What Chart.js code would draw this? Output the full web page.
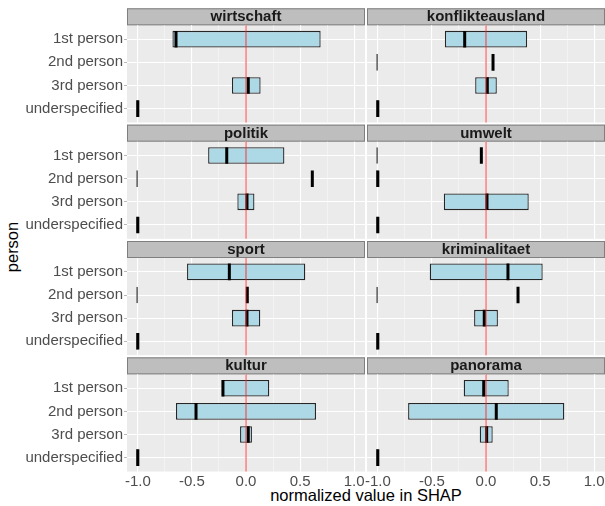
<!DOCTYPE html>
<html>
<head>
<meta charset="utf-8">
<script src="https://cdn.jsdelivr.net/npm/chart.js@4"></script>
<style>
  html, body { margin: 0; padding: 0; background: #ffffff; }
  #fig { position: relative; width: 605px; height: 506px; overflow: hidden;
         font-family: "Liberation Sans", Arial, sans-serif; }
  #fig canvas { position: absolute; }
  .axis-title { position: absolute; color: #000000; font-size: 16.5px; line-height: 1;
                white-space: nowrap; transform: translate(-50%, -50%); }
  #ytitle { transform: translate(-50%, -50%) rotate(-90deg); }
</style>
</head>
<body>
<div id="fig">
  <div class="axis-title" id="ytitle" style="left:12px; top:247px;">person</div>
  <div class="axis-title" id="xtitle" style="left:366px; top:495px;">normalized value in SHAP</div>
</div>
<script>
// Groups on the vertical axis (top to bottom)
const categories = ['1st person', '2nd person', '3rd person', 'underspecified'];

// Facets, filled row by row (left, right)
const panelNames = ['wirtschaft', 'konflikteausland', 'politik', 'umwelt',
                    'sport', 'kriminalitaet', 'kultur', 'panorama'];

// Box limits and medians per facet, one value per group (null = no data)
const lowerHinge = [
  [-0.68,  null,   -0.13,  -1],   // wirtschaft
  [-0.38,  -1,     -0.10,  -1],   // konflikteausland
  [-0.35,  -1,     -0.08,  -1],   // politik
  [-1,     -1,     -0.39,  -1],   // umwelt
  [-0.545, -1,     -0.13,  -1],   // sport
  [-0.52,  -1,     -0.11,  -1],   // kriminalitaet
  [-0.225, -0.647, -0.055, -1],   // kultur
  [-0.206, -0.72,  -0.058, -1]    // panorama
];
const upperHinge = [
  [0.69,   null,   0.135,  -1],
  [0.38,   -1,     0.10,   -1],
  [0.355,  -1,     0.078,  -1],
  [-1,     -1,     0.395,  -1],
  [0.548,  -1,     0.132,  -1],
  [0.524,  -1,     0.11,   -1],
  [0.215,  0.647,  0.055,  -1],
  [0.21,   0.724,  0.062,  -1]
];
const medians = [
  [-0.647, null,   0.021,  -1],
  [-0.197, 0.065,  0.012,  -1],
  [-0.178, 0.613,  0.009,  -1],
  [-0.043, -1,     0.009,  -1],
  [-0.154, 0.012,  0.009,  -1],
  [0.203,  0.296,  -0.016, -1],
  [-0.213, -0.462, 0.021,  -1],
  [-0.021, 0.095,  0.006,  -1]
];

// Horizontal axis: grid positions and labelled values
const xGridValues = [-1, -0.75, -0.5, -0.25, 0, 0.25, 0.5, 0.75, 1];
const xLabelValues = [-1, -0.5, 0, 0.5, 1];
const referenceValue = 0;

const FONT = '"Liberation Sans", Arial, sans-serif';

// Panel background, strip with facet name, and the reference line at zero
const facetPlugin = {
  id: 'facet',
  beforeDraw(chart, args, opts) {
    const { ctx, chartArea: a } = chart;
    const w = a.right - a.left;
    ctx.save();
    ctx.fillStyle = '#EBEBEB';
    ctx.fillRect(a.left, a.top, w, a.bottom - a.top);
    const top = a.top - opts.stripHeight;
    ctx.fillStyle = '#BEBEBE';
    ctx.fillRect(a.left, top, w, opts.stripHeight);
    ctx.strokeStyle = '#7F7F7F';
    ctx.lineWidth = 1;
    ctx.strokeRect(a.left + 0.5, top + 0.5, w - 1, opts.stripHeight - 1);
    ctx.fillStyle = '#1A1A1A';
    ctx.font = 'bold 15px ' + FONT;
    ctx.textAlign = 'center';
    ctx.textBaseline = 'middle';
    ctx.fillText(opts.label, (a.left + a.right) / 2, top + opts.stripHeight / 2 + 0.5);
    ctx.restore();
  },
  afterDatasetsDraw(chart, args, opts) {
    const { ctx, chartArea: a } = chart;
    const x = chart.scales.x.getPixelForValue(opts.refValue);
    ctx.save();
    ctx.strokeStyle = 'rgba(255, 30, 30, 0.72)';
    ctx.lineWidth = 1.2;
    ctx.beginPath();
    ctx.moveTo(x, a.top);
    ctx.lineTo(x, a.bottom);
    ctx.stroke();
    ctx.restore();
  }
};

const fig = document.getElementById('fig');
const stripH = 17, panelH = 97.2, firstStrip = 8.3, rowPitch = 116.35;
const xAxisH = 20;

panelNames.forEach((name, p) => {
  const row = Math.floor(p / 2);
  const isLeft = p % 2 === 0;
  const isBottom = row === 3;

  const stripTop = firstStrip + row * rowPitch;
  const canvasTop = Math.floor(stripTop);
  const padTop = stripTop - canvasTop + stripH;
  const axisH = isBottom ? xAxisH : 0;
  const content = padTop + panelH + axisH;
  const canvasH = Math.ceil(content);
  const padBottom = canvasH - content;

  const canvasLeft = isLeft ? 0 : 355;
  const canvasW = isLeft ? 365 : 250;
  const yAxisW = isLeft ? 127 : 12;

  const canvas = document.createElement('canvas');
  canvas.width = canvasW;
  canvas.height = canvasH;
  canvas.style.left = canvasLeft + 'px';
  canvas.style.top = canvasTop + 'px';
  canvas.style.width = canvasW + 'px';
  canvas.style.height = canvasH + 'px';
  fig.appendChild(canvas);

  const boxData = [];
  const medianData = [];
  categories.forEach((c, i) => {
    if (lowerHinge[p][i] !== null) boxData.push({ y: i, x: [lowerHinge[p][i], upperHinge[p][i]] });
    if (medians[p][i] !== null) medianData.push({ y: i, x: medians[p][i] });
  });

  new Chart(canvas, {
    type: 'bar',
    data: {
      datasets: [
        {
          type: 'bar',
          indexAxis: 'y',
          data: boxData,
          backgroundColor: '#ADD8E6',
          borderColor: '#262626',
          borderWidth: 1.3,
          borderSkipped: false,
          minBarLength: 1.5,
          grouped: false,
          barPercentage: 0.9,
          categoryPercentage: 0.8,
          order: 2
        },
        {
          type: 'line',
          indexAxis: 'y',
          data: medianData,
          showLine: false,
          pointStyle: 'line',
          pointRotation: 90,
          pointRadius: 8.3,
          pointBorderWidth: 3,
          pointBorderColor: '#000000',
          pointBackgroundColor: '#000000',
          borderColor: '#000000',
          order: 1
        }
      ]
    },
    options: {
      indexAxis: 'y',
      responsive: false,
      animation: false,
      events: [],
      layout: { autoPadding: false, padding: { top: padTop, bottom: padBottom, left: 0, right: 0 } },
      plugins: {
        legend: { display: false },
        tooltip: { enabled: false },
        title: { display: false },
        facet: { label: name, stripHeight: stripH, refValue: referenceValue }
      },
      scales: {
        x: {
          type: 'linear',
          offset: false,
          min: -1.1,
          max: 1.1,
          afterBuildTicks: s => { s.ticks = xGridValues.map(v => ({ value: v })); },
          afterFit: s => { s.height = axisH; s.paddingLeft = 0; s.paddingRight = 0; },
          border: { display: false },
          grid: {
            offset: false,
            drawTicks: false,
            color: ctx => (ctx.tick && xLabelValues.includes(ctx.tick.value)) ? '#FFFFFF' : '#F7F7F7',
            lineWidth: ctx => (ctx.tick && xLabelValues.includes(ctx.tick.value)) ? 1.1 : 0.7
          },
          ticks: {
            display: isBottom,
            autoSkip: false,
            maxRotation: 0,
            padding: 1,
            color: '#4D4D4D',
            font: { family: FONT, size: 15 },
            callback: v => xLabelValues.includes(v) ? v.toFixed(1) : ''
          }
        },
        y: {
          type: 'linear',
          offset: false,
          reverse: true,
          min: -0.6,
          max: 3.6,
          afterBuildTicks: s => { s.ticks = categories.map((c, i) => ({ value: i })); },
          afterFit: s => { s.width = yAxisW; s.paddingTop = 0; s.paddingBottom = 0; },
          border: { display: false },
          grid: {
            offset: false,
            color: '#FFFFFF',
            lineWidth: 1,
            drawTicks: isLeft,
            tickLength: 3,
            tickColor: 'rgba(51, 51, 51, 0.35)'
          },
          ticks: {
            display: isLeft,
            padding: 1,
            color: '#4D4D4D',
            font: { family: FONT, size: 15 },
            callback: v => categories[v]
          }
        }
      }
    },
    plugins: [facetPlugin]
  });
});
</script>
</body>
</html>
